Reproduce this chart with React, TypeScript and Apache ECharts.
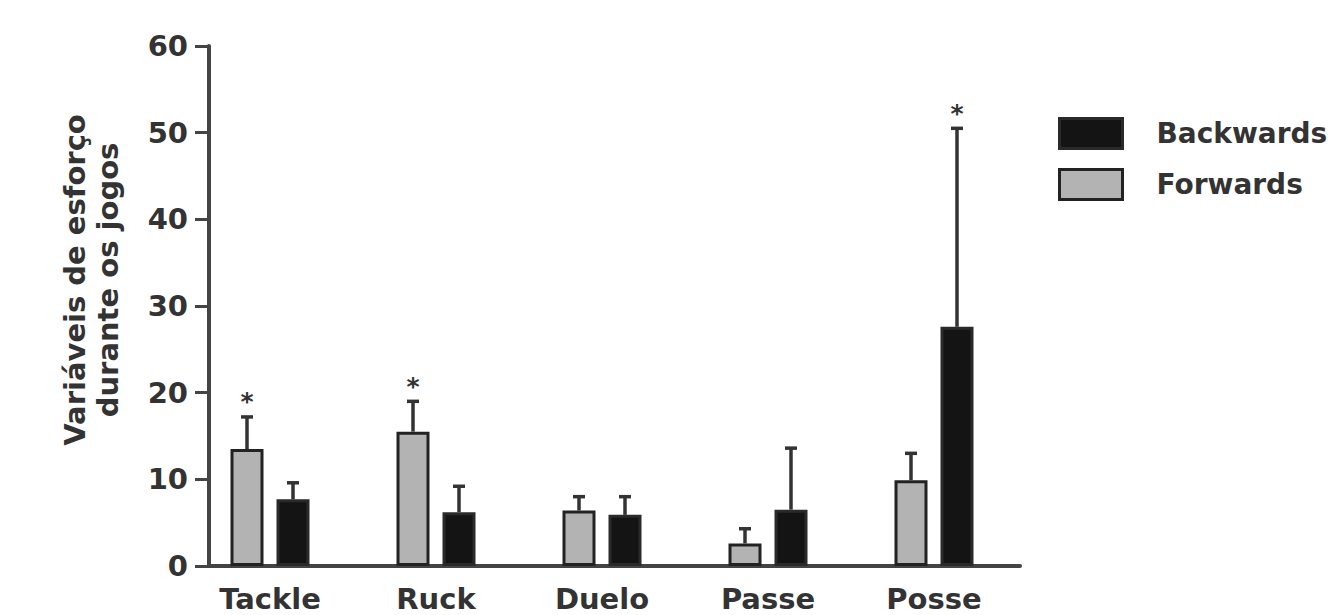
import React, { useEffect, useRef } from "react";
import * as echarts from "echarts";

const categories = ["Tackle", "Ruck", "Duelo", "Passe", "Posse"];
const forwardsMean = [13.5, 15.5, 6.4, 2.6, 9.9];
const forwardsSD = [3.7, 3.5, 1.6, 1.7, 3.1];
const backwardsMean = [7.7, 6.2, 5.9, 6.5, 27.6];
const backwardsSD = [1.9, 3.0, 2.1, 7.1, 22.9];
const forwardsSig = [1, 1, 0, 0, 0];
const backwardsSig = [0, 0, 0, 0, 1];
const yMin = 0;
const yMax = 60;
const yInterval = 10;
const yTitle = "Variáveis de esforço\ndurante os jogos";

const FONT = "DejaVu Sans";
const TEXT = "#333";
const AXIS = "#444";
const GRAY = "#b3b3b3";
const BLACK = "#141414";
const BAR_W = 33;
const BAR_GAP_PX = 13;

function errorSeries(name: string, means: number[], sds: number[], sig: number[], side: number) {
  return {
    type: "custom",
    name: name + "-err",
    xAxisIndex: 0,
    yAxisIndex: 0,
    z: 5,
    silent: true,
    data: means.map((m, i) => [i, m, sds[i], sig[i]]),
    renderItem: (params: any, api: any) => {
      const i = api.value(0);
      const mean = api.value(1);
      const sd = api.value(2);
      const s = api.value(3);
      const base = api.coord([i, mean]);
      const top = api.coord([i, mean + sd]);
      const x = base[0] + side * (BAR_W + BAR_GAP_PX) / 2;
      const style = { stroke: "#333", lineWidth: 3.5 };
      const children: any[] = [
        { type: "line", shape: { x1: x, y1: base[1], x2: x, y2: top[1] }, style },
        { type: "line", shape: { x1: x - 6, y1: top[1], x2: x + 6, y2: top[1] }, style },
      ];
      if (s) {
        children.push({
          type: "text",
          x: x,
          y: top[1] - 15,
          style: {
            text: "*",
            fontSize: 25,
            fontWeight: "bold",
            fontFamily: FONT,
            fill: "#333",
            align: "center",
            verticalAlign: "middle",
          },
        });
      }
      return { type: "group", children };
    },
  };
}

export default function App() {
  const ref = useRef<HTMLDivElement>(null);
  useEffect(() => {
    if (!ref.current) return;
    const chart = echarts.init(ref.current, null, { renderer: "svg" });
    const labelStyle = { fontSize: 29, fontWeight: "bold", fontFamily: FONT, color: TEXT };
    chart.setOption({
      animation: false,
      backgroundColor: "#fff",
      grid: [
        { left: 187, top: 46, width: 830, height: 520, outerBoundsMode: "none", containLabel: false },
        { left: 209, top: 46, width: 811, height: 520, outerBoundsMode: "none", containLabel: false },
      ],
      xAxis: [
        {
          type: "category",
          gridIndex: 0,
          data: categories,
          axisLine: { show: false },
          axisTick: { show: false },
          axisLabel: { ...labelStyle, margin: 18 },
        },
        {
          type: "value",
          gridIndex: 1,
          min: 0,
          max: 1,
          axisLine: { show: true, lineStyle: { color: AXIS, width: 4 } },
          axisTick: { show: false },
          axisLabel: { show: false },
          splitLine: { show: false },
        },
      ],
      yAxis: [
        {
          type: "value",
          gridIndex: 0,
          min: yMin,
          max: yMax,
          interval: yInterval,
          show: false,
          splitLine: { show: false },
        },
        {
          type: "value",
          gridIndex: 1,
          min: yMin,
          max: yMax,
          interval: yInterval,
          axisLine: { show: true, lineStyle: { color: AXIS, width: 4 } },
          axisTick: { show: true, length: 14, lineStyle: { color: AXIS, width: 3 } },
          axisLabel: { ...labelStyle, margin: 21 },
          splitLine: { show: false },
        },
      ],
      legend: {
        orient: "vertical",
        left: 1053,
        top: 112,
        itemWidth: 63,
        itemHeight: 30,
        itemGap: 18,
        icon: "rect",
        data: [
          { name: "Backwards", itemStyle: { color: BLACK, borderColor: "#2a2a2a", borderWidth: 3 } },
          { name: "Forwards", itemStyle: { color: GRAY, borderColor: "#222", borderWidth: 3 } },
        ],
        textStyle: { ...labelStyle, fontSize: 28, lineHeight: 30, padding: [0, 0, 0, 29] },
        selectedMode: false,
      },
      graphic: [
        {
          type: "text",
          x: 91,
          y: 280,
          rotation: Math.PI / 2,
          style: {
            text: yTitle,
            fontSize: 29,
            fontWeight: "bold",
            fontFamily: FONT,
            fill: TEXT,
            align: "center",
            verticalAlign: "middle",
            lineHeight: 33,
          },
        },
      ],
      series: [
        {
          type: "bar",
          name: "Forwards",
          xAxisIndex: 0,
          yAxisIndex: 0,
          data: forwardsMean,
          barWidth: BAR_W,
          barGap: (BAR_GAP_PX / BAR_W) * 100 + "%",
          itemStyle: { color: GRAY, borderColor: "#222", borderWidth: 3 },
        },
        {
          type: "bar",
          name: "Backwards",
          xAxisIndex: 0,
          yAxisIndex: 0,
          data: backwardsMean,
          barWidth: BAR_W,
          barGap: (BAR_GAP_PX / BAR_W) * 100 + "%",
          itemStyle: { color: BLACK, borderColor: "#2a2a2a", borderWidth: 3 },
        },
        errorSeries("Forwards", forwardsMean, forwardsSD, forwardsSig, -1),
        errorSeries("Backwards", backwardsMean, backwardsSD, backwardsSig, 1),
      ],
    });
    return () => chart.dispose();
  }, []);
  return (
    <div
      ref={ref}
      style={{ position: "fixed", left: 0, top: 0, width: 1336, height: 615 }}
    />
  );
}
